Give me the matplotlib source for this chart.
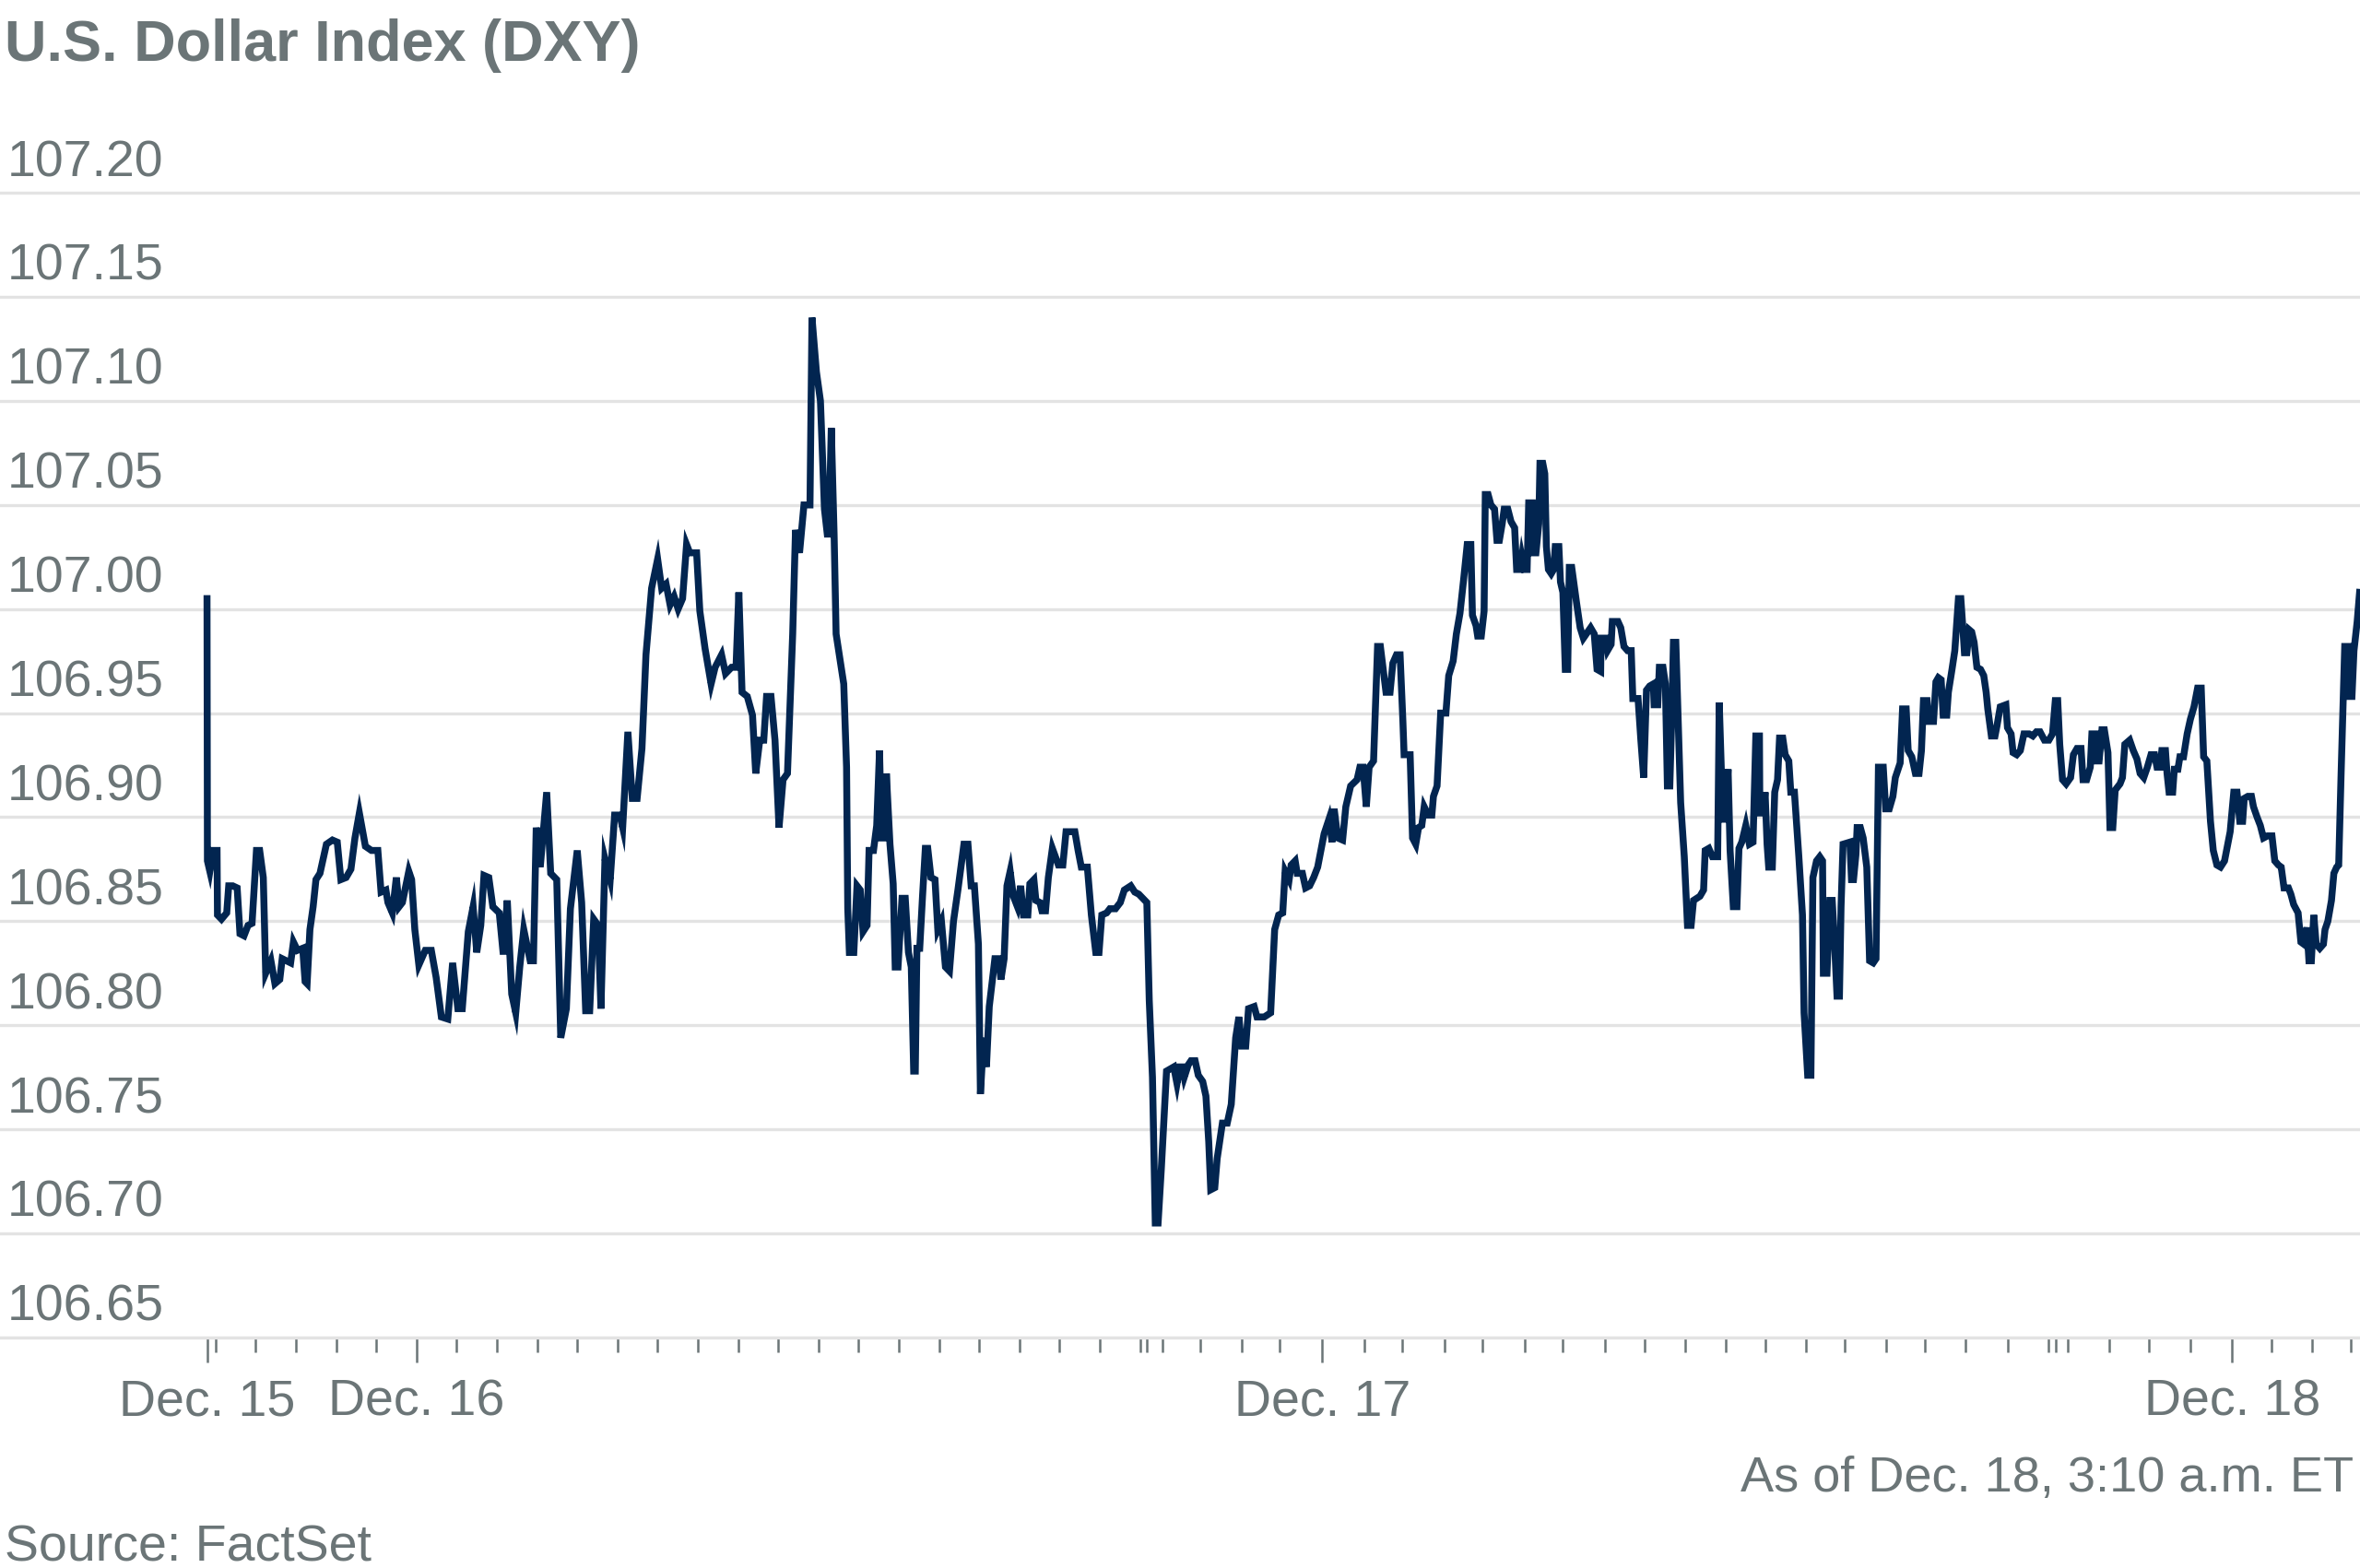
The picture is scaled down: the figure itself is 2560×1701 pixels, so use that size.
import matplotlib
matplotlib.use("Agg")
import matplotlib.pyplot as plt

plt.rcParams["font.family"] = ["Liberation Sans", "DejaVu Sans"]

# x = position on the chart's trading-time axis, in hours (1 hourly tick = 1),
# counted from Dec. 15 00:00 ET; the axis skips the daily break so it is not clock time
pos_a = [18.79, 18.80, 18.86, 18.94, 19.04, 19.05, 19.15, 19.28, 19.33, 19.43,
         19.54, 19.61, 19.71, 19.81, 19.91, 20.02, 20.10, 20.19, 20.25, 20.38,
         20.48, 20.60, 20.66, 20.87, 20.94, 21.04, 21.17, 21.23, 21.28, 21.35,
         21.43, 21.50, 21.60, 21.76, 21.91, 22.03, 22.12, 22.25, 22.37, 22.47,
         22.58, 22.73, 22.88, 23.04, 23.12, 23.24, 23.29, 23.40, 23.50, 23.57,
         23.65, 23.81, 23.88, 23.96, 24.06, 24.22, 24.37, 24.49, 24.62, 24.78,
         24.90, 25.03, 25.14, 25.29, 25.41, 25.50, 25.60, 25.68, 25.80, 25.90,
         26.06, 26.16, 26.26, 26.37, 26.47, 26.57, 26.67, 26.83, 26.91, 26.98,
         27.08, 27.24, 27.34, 27.49, 27.59, 27.73, 27.83, 28.00, 28.11, 28.21,
         28.31, 28.41, 28.52, 28.59, 28.69, 28.82, 28.93, 29.06, 29.13, 29.26,
         29.37, 29.49, 29.61, 29.71, 29.85, 30.00, 30.10, 30.21, 30.31, 30.41,
         30.51, 30.62, 30.72, 30.80, 30.97, 31.05, 31.18, 31.33, 31.43, 31.59,
         31.69, 31.84, 31.95, 32.02, 32.10, 32.23, 32.36, 32.44, 32.54, 32.64,
         32.71, 32.82, 32.92, 33.02, 33.12, 33.23, 33.36, 33.43, 33.53, 33.64,
         33.79, 33.84, 33.95, 34.05, 34.15, 34.22]
dxy_a = [107.005, 106.879, 106.874, 106.884, 106.884, 106.853, 106.851, 106.854, 106.867, 106.867,
         106.866, 106.844, 106.843, 106.848, 106.849, 106.884, 106.884, 106.871, 106.825, 106.831,
         106.820, 106.822, 106.832, 106.830, 106.840, 106.836, 106.837, 106.821, 106.820, 106.846,
         106.857, 106.870, 106.873, 106.887, 106.889, 106.888, 106.870, 106.871, 106.875, 106.890,
         106.902, 106.886, 106.884, 106.884, 106.864, 106.865, 106.859, 106.854, 106.871, 106.857,
         106.859, 106.874, 106.870, 106.846, 106.829, 106.836, 106.836, 106.823, 106.804, 106.803,
         106.830, 106.808, 106.808, 106.845, 106.857, 106.835, 106.848, 106.872, 106.871, 106.857,
         106.854, 106.834, 106.860, 106.815, 106.806, 106.828, 106.846, 106.831, 106.831, 106.895,
         106.876, 106.912, 106.873, 106.870, 106.794, 106.808, 106.856, 106.884, 106.859, 106.807,
         106.807, 106.851, 106.848, 106.808, 106.880, 106.870, 106.901, 106.901, 106.895, 106.941,
         106.909, 106.909, 106.933, 106.978, 107.010, 107.024, 107.010, 107.012, 107.002, 107.006,
         107.000, 107.005, 107.031, 107.027, 107.027, 106.999, 106.981, 106.964, 106.972, 106.978,
         106.969, 106.972, 106.972, 107.008, 106.960, 106.958, 106.949, 106.921, 106.937, 106.937,
         106.958, 106.958, 106.937, 106.895, 106.918, 106.921, 106.988, 107.038, 107.027, 107.050,
         107.050, 107.140, 107.114, 107.100, 107.048, 107.036]

pos_b = [34.26, 34.32, 34.39, 34.44, 34.63, 34.70, 34.73, 34.77, 34.88, 34.96,
         35.04, 35.11, 35.21, 35.26, 35.37, 35.45, 35.52, 35.57, 35.67, 35.69,
         35.78, 35.86, 35.91, 35.98, 36.08, 36.16, 36.24, 36.31, 36.37, 36.41,
         36.45, 36.52, 36.59, 36.66, 36.72, 36.80, 36.90, 36.97, 37.06, 37.16,
         37.26, 37.36, 37.47, 37.62, 37.72, 37.80, 37.88, 37.98, 38.03, 38.11,
         38.18, 38.25, 38.39, 38.49, 38.54, 38.62, 38.69, 38.77, 38.85, 38.95,
         39.03, 39.10, 39.21, 39.26, 39.36, 39.41, 39.51, 39.56, 39.65, 39.72,
         39.82, 39.97, 40.08, 40.16, 40.38, 40.46, 40.54, 40.69, 40.79, 40.90,
         40.98, 41.05, 41.17, 41.25, 41.39, 41.51, 41.61, 41.77, 41.87, 41.97,
         42.07, 42.17, 42.23, 42.31, 42.38, 42.45, 42.53, 42.66, 42.84, 42.92,
         42.99, 43.05, 43.10, 43.20, 43.27, 43.37, 43.45, 43.56, 43.64, 43.71,
         43.76, 43.86, 43.92, 44.05, 44.17, 44.27, 44.38, 44.46, 44.53, 44.63,
         44.70, 44.84, 44.91, 45.09, 45.25, 45.35, 45.45, 45.55, 45.61, 45.71,
         45.76, 45.86, 45.91, 46.04, 46.12, 46.22, 46.32, 46.42, 46.58, 46.70,
         46.78, 46.83, 46.92, 47.04, 47.12, 47.24, 47.40, 47.47, 47.55, 47.63,
         47.70, 47.81, 47.91, 47.98]
dxy_b = [107.036, 107.087, 107.036, 106.988, 106.964, 106.924, 106.856, 106.835, 106.835, 106.867,
         106.865, 106.845, 106.848, 106.884, 106.884, 106.896, 106.932, 106.890, 106.890, 106.921,
         106.887, 106.868, 106.828, 106.828, 106.861, 106.861, 106.835, 106.828, 106.778, 106.778,
         106.837, 106.837, 106.862, 106.885, 106.885, 106.871, 106.870, 106.846, 106.850, 106.828,
         106.826, 106.850, 106.865, 106.887, 106.887, 106.867, 106.867, 106.839, 106.767, 106.794,
         106.780, 106.809, 106.832, 106.832, 106.822, 106.832, 106.867, 106.874, 106.862, 106.857,
         106.867, 106.853, 106.853, 106.868, 106.870, 106.860, 106.859, 106.855, 106.855, 106.871,
         106.885, 106.877, 106.877, 106.893, 106.893, 106.884, 106.876, 106.876, 106.853, 106.835,
         106.835, 106.853, 106.854, 106.856, 106.856, 106.859, 106.865, 106.867, 106.864, 106.863,
         106.861, 106.859, 106.812, 106.775, 106.705, 106.705, 106.731, 106.778, 106.780, 106.772,
         106.780, 106.780, 106.775, 106.781, 106.783, 106.783, 106.776, 106.773, 106.766, 106.744,
         106.721, 106.722, 106.736, 106.753, 106.753, 106.762, 106.794, 106.804, 106.790, 106.790,
         106.808, 106.809, 106.804, 106.804, 106.806, 106.846, 106.853, 106.854, 106.874, 106.870,
         106.877, 106.879, 106.873, 106.873, 106.866, 106.867, 106.871, 106.876, 106.892, 106.899,
         106.888, 106.904, 106.890, 106.889, 106.905, 106.915, 106.918, 106.924, 106.924, 106.905,
         106.924, 106.927, 106.982, 106.982]

pos_c = [48.05, 48.12, 48.22, 48.29, 48.38, 48.47, 48.54, 48.57, 48.72, 48.78,
         48.86, 48.93, 49.01, 49.07, 49.17, 49.26, 49.30, 49.39, 49.48, 49.61,
         49.68, 49.79, 49.87, 49.96, 50.05, 50.14, 50.23, 50.27, 50.36, 50.40,
         50.49, 50.56, 50.59, 50.66, 50.73, 50.82, 50.88, 50.94, 51.01, 51.06,
         51.15, 51.23, 51.32, 51.37, 51.46, 51.50, 51.56, 51.63, 51.67, 51.76,
         51.79, 51.85, 51.92, 51.95, 52.02, 52.07, 52.11, 52.16, 52.23, 52.29,
         52.33, 52.42, 52.46, 52.52, 52.58, 52.64, 52.68, 52.74, 52.86, 52.95,
         53.03, 53.21, 53.30, 53.37, 53.46, 53.47, 53.58, 53.63, 53.72, 53.75,
         53.89, 53.96, 54.04, 54.13, 54.22, 54.26, 54.39, 54.46, 54.53, 54.60,
         54.68, 54.77, 54.79, 54.88, 54.92, 55.01, 55.07, 55.12, 55.18, 55.23,
         55.27, 55.33, 55.40, 55.45, 55.54, 55.62, 55.71, 55.77, 55.93, 56.02,
         56.06, 56.15, 56.24, 56.37, 56.41, 56.50, 56.56, 56.63, 56.68, 56.76,
         56.85, 56.90, 56.97, 57.07, 57.16, 57.25, 57.32, 57.41, 57.42, 57.51,
         57.55, 57.60, 57.64, 57.73, 57.79, 57.86, 57.91, 57.99, 58.05, 58.14,
         58.19, 58.28, 58.39, 58.48, 58.52, 58.61, 58.69, 58.74, 58.83, 58.91,
         58.98, 59.00, 59.09, 59.16, 59.22, 59.27, 59.34, 59.40, 59.44, 59.49]
dxy_c = [106.971, 106.960, 106.960, 106.974, 106.978, 106.978, 106.946, 106.930, 106.930, 106.890,
         106.887, 106.895, 106.896, 106.905, 106.901, 106.901, 106.910, 106.915, 106.950, 106.950,
         106.968, 106.975, 106.988, 106.998, 107.014, 107.031, 107.031, 106.997, 106.992, 106.987,
         106.987, 106.999, 107.055, 107.055, 107.050, 107.048, 107.033, 107.033, 107.041, 107.048,
         107.048, 107.042, 107.039, 107.019, 107.019, 107.025, 107.019, 107.019, 107.051, 107.051,
         107.027, 107.027, 107.041, 107.070, 107.070, 107.065, 107.030, 107.019, 107.017, 107.019,
         107.030, 107.030, 107.013, 107.008, 106.971, 106.971, 107.020, 107.020, 107.003, 106.991,
         106.986, 106.991, 106.988, 106.971, 106.970, 106.986, 106.986, 106.980, 106.983, 106.994,
         106.994, 106.991, 106.982, 106.980, 106.980, 106.957, 106.957, 106.937, 106.919, 106.961,
         106.963, 106.964, 106.954, 106.954, 106.972, 106.972, 106.964, 106.915, 106.915, 106.949,
         106.984, 106.984, 106.940, 106.907, 106.881, 106.848, 106.848, 106.860, 106.862, 106.865,
         106.884, 106.885, 106.881, 106.881, 106.955, 106.899, 106.899, 106.923, 106.884, 106.857,
         106.857, 106.885, 106.888, 106.896, 106.887, 106.888, 106.939, 106.939, 106.902, 106.902,
         106.912, 106.887, 106.876, 106.876, 106.912, 106.918, 106.938, 106.938, 106.930, 106.927,
         106.912, 106.912, 106.881, 106.853, 106.806, 106.776, 106.776, 106.871, 106.879, 106.881,
         106.879, 106.825, 106.825, 106.860, 106.860, 106.843, 106.814, 106.814, 106.857, 106.887]

pos_d = [59.66, 59.70, 59.75, 59.81, 59.84, 59.92, 59.99, 60.08, 60.15, 60.24,
         60.31, 60.37, 60.49, 60.55, 60.64, 60.73, 60.79, 60.91, 60.97, 61.06,
         61.11, 61.20, 61.29, 61.38, 61.44, 61.49, 61.58, 61.62, 61.74, 61.80,
         61.86, 61.93, 61.98, 62.07, 62.11, 62.16, 62.20, 62.27, 62.36, 62.42,
         62.47, 62.51, 62.57, 62.63, 62.69, 62.75, 62.82, 62.91, 62.99, 63.05,
         63.09, 63.18, 63.27, 63.32, 63.40, 63.54, 63.58, 63.67, 63.72, 63.81,
         63.90, 63.99, 64.12, 64.21, 64.30, 64.39, 64.50, 64.61, 64.70, 64.77,
         64.83, 64.88, 64.95, 65.04, 65.15, 65.22, 65.31, 65.41, 65.46, 65.55,
         65.64, 65.68, 65.77, 65.80, 65.86, 65.93, 65.99, 66.08, 66.13, 66.20,
         66.26, 66.38, 66.44, 66.50, 66.62, 66.71, 66.80, 66.88, 66.97, 67.06,
         67.15, 67.24, 67.30, 67.38, 67.42, 67.51, 67.55, 67.60, 67.69, 67.73,
         67.82, 67.87, 67.96, 68.05, 68.13, 68.22, 68.31, 68.40, 68.46, 68.54,
         68.63, 68.70, 68.79, 68.88, 68.98, 69.03, 69.12, 69.21, 69.29, 69.36,
         69.43, 69.47, 69.56, 69.65, 69.70, 69.79, 69.87, 69.95, 70.05, 70.16,
         70.23, 70.32, 70.39, 70.46, 70.57, 70.63, 70.70, 70.81, 70.88, 70.95,
         71.03, 71.08, 71.14, 71.20, 71.26, 71.35, 71.44, 71.48, 71.55, 71.64,
         71.70, 71.77, 71.82, 71.88, 71.97, 72.06, 72.10, 72.15, 72.20, 72.28,
         72.34]
dxy_d = [106.888, 106.870, 106.870, 106.882, 106.895, 106.895, 106.890, 106.876, 106.831, 106.830,
         106.832, 106.924, 106.924, 106.904, 106.904, 106.910, 106.919, 106.926, 106.952, 106.952,
         106.932, 106.929, 106.921, 106.921, 106.932, 106.956, 106.956, 106.946, 106.946, 106.965,
         106.967, 106.966, 106.949, 106.949, 106.960, 106.966, 106.971, 106.980, 107.005, 107.005,
         106.991, 106.979, 106.979, 106.990, 106.989, 106.984, 106.972, 106.971, 106.968, 106.960,
         106.952, 106.939, 106.939, 106.944, 106.953, 106.954, 106.943, 106.940, 106.931, 106.930,
         106.932, 106.940, 106.940, 106.939, 106.941, 106.941, 106.937, 106.937, 106.940, 106.956,
         106.956, 106.935, 106.918, 106.916, 106.919, 106.930, 106.933, 106.933, 106.918, 106.918,
         106.924, 106.940, 106.940, 106.927, 106.927, 106.942, 106.942, 106.931, 106.895, 106.895,
         106.913, 106.916, 106.919, 106.935, 106.937, 106.932, 106.928, 106.921, 106.919, 106.924,
         106.930, 106.930, 106.924, 106.924, 106.932, 106.932, 106.921, 106.912, 106.912, 106.923,
         106.923, 106.929, 106.929, 106.940, 106.947, 106.953, 106.962, 106.962, 106.929, 106.927,
         106.898, 106.884, 106.877, 106.876, 106.879, 106.884, 106.893, 106.912, 106.912, 106.898,
         106.898, 106.909, 106.910, 106.910, 106.905, 106.900, 106.896, 106.890, 106.891, 106.891,
         106.879, 106.877, 106.876, 106.866, 106.866, 106.863, 106.858, 106.854, 106.840, 106.839,
         106.847, 106.831, 106.831, 106.853, 106.839, 106.837, 106.839, 106.846, 106.850, 106.860,
         106.873, 106.876, 106.877, 106.921, 106.982, 106.982, 106.958, 106.958, 106.980, 106.994,
         107.008]

pos = pos_a + pos_b + pos_c + pos_d
dxy = dxy_a + dxy_b + dxy_c + dxy_d

y_ticks = [106.65, 106.70, 106.75, 106.80, 106.85, 106.90,
           106.95, 107.00, 107.05, 107.10, 107.15, 107.20]
day_ticks = [18.79, 24.0, 46.53, 69.17]
day_labels = ["Dec. 15", "Dec. 16", "Dec. 17", "Dec. 18"]
hour_ticks = ([19, 20, 21, 22, 23] + list(range(25, 43)) +
              [42.17, 42.55, 43.49, 44.53, 45.48, 47.58, 48.52, 49.57, 50.52,
               51.57, 52.51, 53.57, 54.56, 55.57, 56.58, 57.56, 58.57, 59.52,
               60.56, 61.52, 62.54, 63.59, 64.60, 64.78, 65.07, 66.12, 67.10,
               68.14, 70.15, 71.16, 72.12])

grey = "#6b7577"
navy = "#022550"
light = "#e3e3e3"

fig = plt.figure(figsize=(12.8, 8.505), dpi=200)
# axes span the full width, gridlines run edge to edge
ax = fig.add_axes([0, 0.147, 1, 0.733])

ax.plot(pos, dxy, color=navy, lw=2.7, solid_joinstyle="miter", zorder=3)

ax.set_xlim(13.64, 72.35)
ax.set_ylim(106.65, 107.2022)

for side in ["top", "left", "right"]:
    ax.spines[side].set_visible(False)
ax.spines["bottom"].set_color(light)
ax.spines["bottom"].set_linewidth(1.2)

ax.set_yticks(y_ticks)
ax.tick_params(axis="y", length=0, labelleft=False)
ax.yaxis.grid(True, color=light, lw=1.2)
ax.set_axisbelow(True)

# y labels sit just above their gridline, flush left
for y in y_ticks:
    ax.text(0.003, y + 0.008, f"{y:.2f}", transform=ax.get_yaxis_transform(),
            fontsize=20, color=grey, ha="left", va="baseline")

ax.set_xticks(day_ticks, day_labels)
ax.set_xticks(hour_ticks, minor=True)
ax.tick_params(axis="x", which="major", length=9.7, width=0.9, color=grey,
               labelsize=20, labelcolor=grey, pad=6.5)
ax.tick_params(axis="x", which="minor", length=5.8, width=0.9, color=grey)

fig.text(0.002, 1 - 66 / 1701, "U.S. Dollar Index (DXY)", fontsize=22.7,
         fontweight="bold", color=grey, va="baseline")
fig.text(0.9973, 1 - 1618 / 1701, "As of Dec. 18, 3:10 a.m. ET", fontsize=19.5,
         color=grey, ha="right", va="baseline")
fig.text(0.002, 1 - 1693 / 1701, "Source: FactSet", fontsize=20,
         color=grey, va="baseline")

fig.savefig("out.png", dpi=200)
